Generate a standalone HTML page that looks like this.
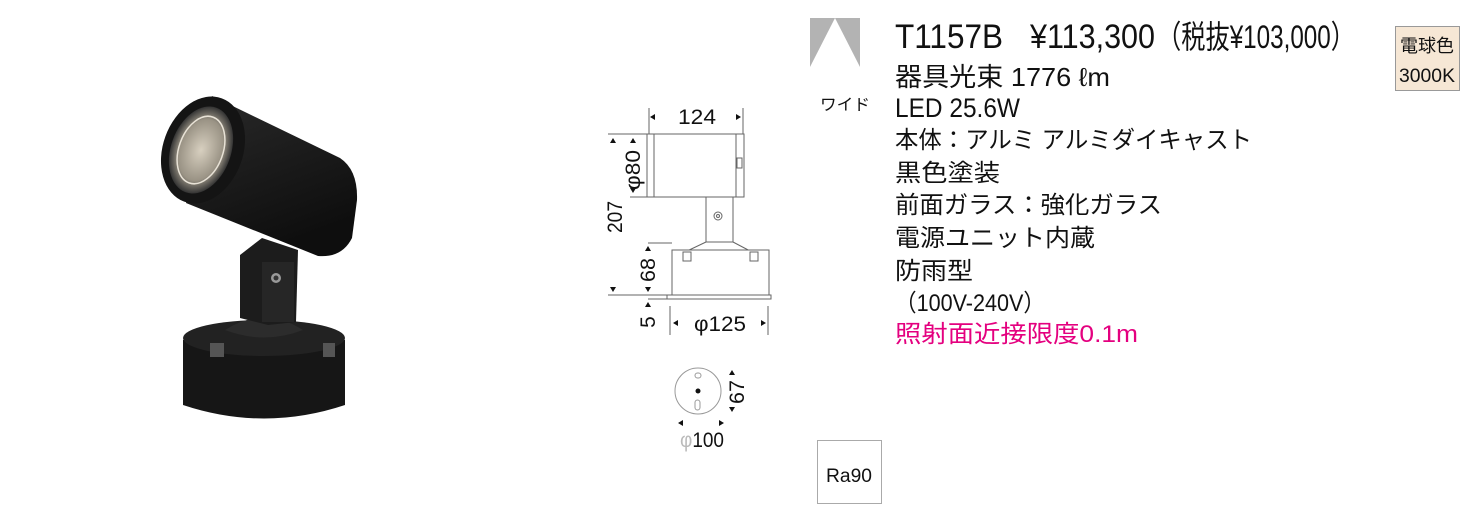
<!DOCTYPE html>
<html><head><meta charset="utf-8"><style>
html,body{margin:0;padding:0;background:#fff;}
svg{display:block;font-family:"Liberation Sans","Noto Sans CJK JP",sans-serif;}
</style></head><body>
<svg width="1477" height="530" viewBox="0 0 1477 530" xmlns="http://www.w3.org/2000/svg">
<defs>
<linearGradient id="g1" x1="0" y1="0" x2="0.4" y2="1">
<stop offset="0" stop-color="#2a2a2a"/><stop offset="0.5" stop-color="#1c1c1c"/><stop offset="1" stop-color="#0e0e0e"/>
</linearGradient>
<radialGradient id="lens" cx="0.5" cy="0.5" r="0.5">
<stop offset="0" stop-color="#d8d0c0"/><stop offset="0.7" stop-color="#9a9385"/><stop offset="1" stop-color="#333"/>
</radialGradient>
</defs>

<!-- lamp photo -->
<g>
<path d="M183 340 L183 405 Q264 432 345 405 L345 340 Z" fill="#161616"/>
<ellipse cx="264" cy="338" rx="81" ry="18" fill="#222"/>
<path d="M225 330 Q264 305 303 330 Q264 345 225 330 Z" fill="#2c2c2c"/>
<rect x="210" y="343" width="14" height="14" fill="#555"/>
<rect x="323" y="343" width="12" height="14" fill="#555"/>
<path d="M240 255 L262 238 L298 250 L296 322 L268 325 L240 318 Z" fill="#1c1c1c"/>
<rect x="262" y="262" width="32" height="60" fill="#262626"/>
<circle cx="276" cy="278" r="5" fill="#999"/><circle cx="276" cy="278" r="2.5" fill="#333"/>
<path d="M212 96 L340 158 Q358 170 357 200 L352 238 Q342 258 318 256 L186 203 Z" fill="url(#g1)"/>
<ellipse cx="203" cy="150" rx="40" ry="55" transform="rotate(20 203 150)" fill="#141414"/>
<ellipse cx="201" cy="150" rx="30" ry="45" transform="rotate(20 201 150)" fill="url(#lens)"/>
<ellipse cx="201" cy="150" rx="22" ry="35" transform="rotate(20 201 150)" fill="none" stroke="#e8e2d6" stroke-width="1.5"/>
</g>

<!-- dimension drawing -->
<g stroke="#666" stroke-width="1" fill="none">
<line x1="649" y1="108" x2="649" y2="134"/><line x1="743" y1="108" x2="743" y2="134"/>
<rect x="647" y="134" width="97" height="63" fill="#fff"/>
<line x1="654" y1="134" x2="654" y2="197"/><line x1="736" y1="134" x2="736" y2="197"/>
<rect x="737" y="158" width="5" height="10"/>
<line x1="608" y1="134" x2="647" y2="134"/><line x1="630" y1="197" x2="647" y2="197"/>
<path d="M706 197 L733 197 L733 242 L706 242 Z" fill="#fff"/>
<circle cx="718" cy="216" r="4"/><circle cx="718" cy="216" r="1.5"/>
<path d="M706 242 L685 252 M733 242 L752 252"/>
<rect x="672" y="250" width="97" height="45" fill="#fff"/>
<rect x="683" y="252" width="8" height="9"/><rect x="750" y="252" width="8" height="9"/>
<rect x="667" y="295" width="104" height="4" fill="#fff"/>
<line x1="648" y1="243" x2="672" y2="243"/>
<line x1="608" y1="295" x2="667" y2="295"/>
<line x1="648" y1="299" x2="667" y2="299"/>
<line x1="670" y1="306" x2="670" y2="335"/><line x1="768" y1="306" x2="768" y2="335"/>
<circle cx="698" cy="391" r="23" stroke="#999"/>
<rect x="695" y="373" width="6" height="5" rx="2.5" stroke="#999"/>
<rect x="695" y="400" width="5" height="10" rx="2.5" stroke="#999"/>
</g>
<circle cx="698" cy="391" r="2.5" fill="#111"/>
<g fill="#111">
<path d="M650 117 l5 -3 v6z"/><path d="M741 117 l-5 -3 v6z"/>
<path d="M613 138 l-3 5 h6z"/><path d="M633 138 l-3 5 h6z"/>
<path d="M633 193 l-3 -5 h6z"/>
<path d="M613 292 l-3 -5 h6z"/>
<path d="M648 246 l-3 5 h6z"/><path d="M648 292 l-3 -5 h6z"/>
<path d="M648 302 l-3 5 h6z"/>
<path d="M673 323 l5 -3 v6z"/><path d="M766 323 l-5 -3 v6z"/>
<path d="M732 370 l-3 5 h6z"/><path d="M732 412 l-3 -5 h6z"/>
<path d="M678 423 l5 -3 v6z"/><path d="M724 423 l-5 -3 v6z"/>
</g>
<g font-size="21" fill="#111">
<text x="697" y="124" text-anchor="middle" textLength="38" lengthAdjust="spacingAndGlyphs">124</text>
<text transform="translate(640 170) rotate(-90)" text-anchor="middle" textLength="40" lengthAdjust="spacingAndGlyphs">φ80</text>
<text transform="translate(622 217) rotate(-90)" text-anchor="middle" textLength="32" lengthAdjust="spacingAndGlyphs">207</text>
<text transform="translate(655 270) rotate(-90)" text-anchor="middle" textLength="24" lengthAdjust="spacingAndGlyphs">68</text>
<text transform="translate(655 322) rotate(-90)" text-anchor="middle">5</text>
<text x="720" y="331" text-anchor="middle" textLength="52" lengthAdjust="spacingAndGlyphs">φ125</text>
<text transform="translate(744 392) rotate(-90)" text-anchor="middle" textLength="24" lengthAdjust="spacingAndGlyphs">67</text>
<text x="702" y="447" text-anchor="middle" textLength="44" lengthAdjust="spacingAndGlyphs"><tspan fill="#bbb">φ</tspan>100</text>
</g>

<path d="M810 18 L835 18 L810 67 Z" fill="#b3b3b3"/>
<path d="M860 18 L835 18 L860 67 Z" fill="#b3b3b3"/>
<text x="820" y="110" font-size="16" fill="#111" textLength="50" lengthAdjust="spacingAndGlyphs">ワイド</text>

<g fill="#111">
<text x="895" y="48" font-size="34" textLength="108" lengthAdjust="spacingAndGlyphs">T1157B</text>
<text x="1030" y="48" font-size="34" textLength="125" lengthAdjust="spacingAndGlyphs">¥113,300</text>
<text x="1157" y="48" font-size="32" textLength="198" lengthAdjust="spacingAndGlyphs">（税抜¥103,000）</text>
<text x="895" y="86" font-size="26" textLength="215" lengthAdjust="spacingAndGlyphs">器具光束 1776 ℓm</text>
<text x="895" y="117" font-size="27" textLength="125" lengthAdjust="spacingAndGlyphs">LED 25.6W</text>
<text x="895" y="148" font-size="24" textLength="357" lengthAdjust="spacingAndGlyphs">本体：アルミ アルミダイキャスト</text>
<text x="895" y="181" font-size="24" textLength="105" lengthAdjust="spacingAndGlyphs">黒色塗装</text>
<text x="895" y="213" font-size="24" textLength="267" lengthAdjust="spacingAndGlyphs">前面ガラス：強化ガラス</text>
<text x="895" y="246" font-size="24" textLength="200" lengthAdjust="spacingAndGlyphs">電源ユニット内蔵</text>
<text x="895" y="279" font-size="24" textLength="78" lengthAdjust="spacingAndGlyphs">防雨型</text>
<text x="895" y="311" font-size="24" textLength="150" lengthAdjust="spacingAndGlyphs">（100V-240V）</text>
<text x="895" y="342" font-size="24" fill="#e4007f" textLength="243" lengthAdjust="spacingAndGlyphs">照射面近接限度0.1m</text>
</g>

<rect x="1395.5" y="26.5" width="64" height="64" fill="#f6e7d5" stroke="#999"/>
<text x="1427" y="52" font-size="18" text-anchor="middle" fill="#111" textLength="54" lengthAdjust="spacingAndGlyphs">電球色</text>
<text x="1427" y="82" font-size="19" text-anchor="middle" fill="#111" textLength="56" lengthAdjust="spacingAndGlyphs">3000K</text>

<rect x="817.5" y="440.5" width="64" height="63" fill="#fff" stroke="#aaa"/>
<text x="849" y="482" font-size="19" text-anchor="middle" fill="#111" textLength="46" lengthAdjust="spacingAndGlyphs">Ra90</text>
</svg>
</body></html>
